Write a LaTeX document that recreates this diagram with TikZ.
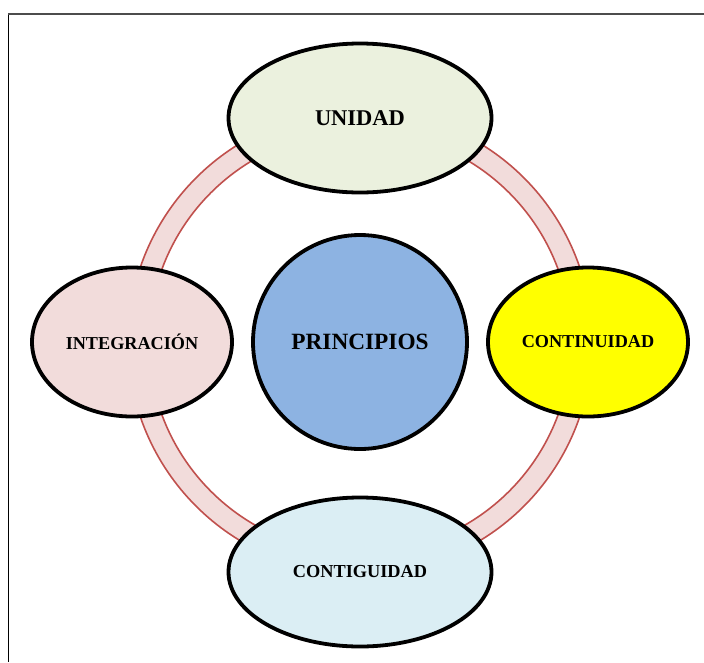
\documentclass[tikz,border=0pt]{standalone}
\usepackage{fontspec}
\setmainfont{Liberation Serif}
\usetikzlibrary{shapes.geometric}
\definecolor{olivelight}{HTML}{EBF1DE}
\definecolor{rosepale}{HTML}{F2DCDB}
\definecolor{rosedark}{HTML}{C0504D}
\definecolor{bluepale}{HTML}{DBEEF4}
\definecolor{bluemid}{HTML}{8DB3E2}
\definecolor{yellowpure}{HTML}{FFFF00}
\tikzset{
  oval/.style={ellipse, draw=black, line width=3.8pt, inner sep=0pt},
  bigoval/.style={oval, minimum width=263pt, minimum height=149pt, font=\bfseries\fontsize{18.3}{20}\selectfont},
  smalloval/.style={oval, minimum width=200pt, minimum height=149pt, font=\bfseries\fontsize{18.2}{20}\selectfont},
}
\begin{document}
\begin{tikzpicture}[x=1pt,y=-1pt]
			\useasboundingbox (0,0) rectangle (704,662);
			\draw[line width=1pt] (8,14) -- (8,662);
			\draw[line width=1.4pt, black!70] (8,14) -- (704,14);
			\coordinate (c) at (360,342);
			\fill[rosepale, even odd rule] (c) circle (232) (c) circle (211);
			\draw[rosedark, line width=1.6pt] (c) circle (232) (c) circle (211);
			\node[oval, fill=bluemid, minimum size=214pt, font=\bfseries\fontsize{23.3}{26}\selectfont] (principios) at (c) {PRINCIPIOS};
			\node[bigoval, fill=olivelight, font=\bfseries\fontsize{22.5}{25}\selectfont] (unidad) at (360,118) {UNIDAD};
			\node[bigoval, fill=bluepale] (contiguidad) at (360,572) {CONTIGUIDAD};
			\node[smalloval, fill=rosepale] (integracion) at (132,342) {INTEGRACIÓN};
			\node[smalloval, fill=yellowpure] (continuidad) at (588,342) {CONTINUIDAD};
		\end{tikzpicture}
\end{document}
